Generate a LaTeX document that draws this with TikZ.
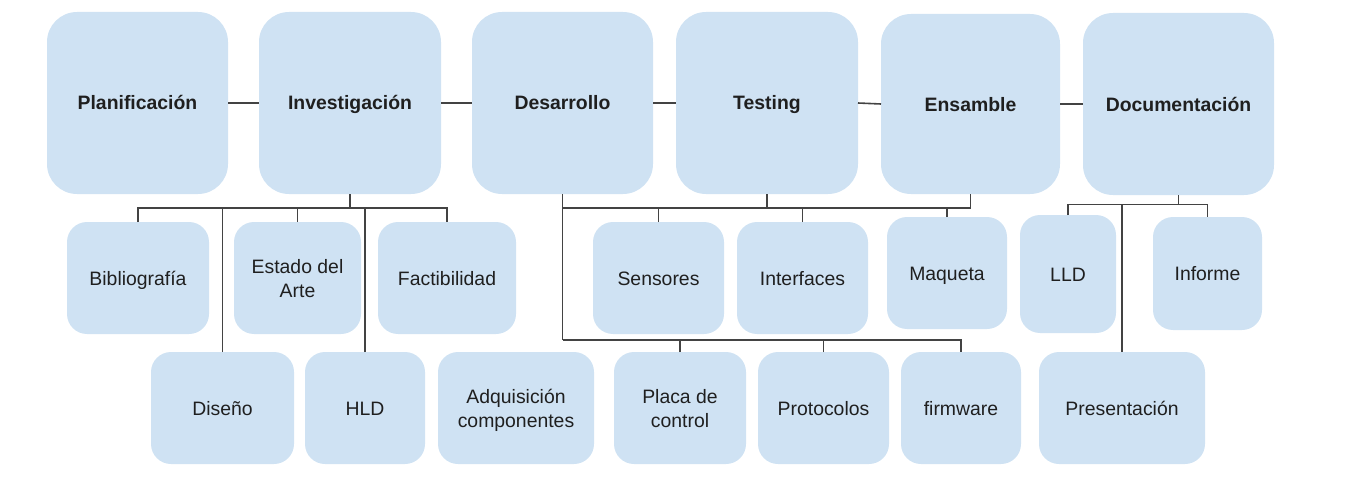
\documentclass[tikz,border=0pt]{standalone}
\usepackage{fontspec}
\setmainfont{Liberation Sans}
\definecolor{boxblue}{HTML}{CFE2F3}
\definecolor{linegray}{HTML}{434343}
\definecolor{txt}{HTML}{1F1F1F}
\begin{document}
\begin{tikzpicture}[x=1pt,y=1pt,
  base/.style={fill=boxblue, draw=none, inner sep=0pt, outer sep=0pt, text=txt,
    align=center, text height=18pt, text depth=4pt, font=\fontsize{19.4}{24}\selectfont},
  topbox/.style={base, rounded corners=30pt, font=\fontsize{19.4}{24}\selectfont\bfseries},
  subbox/.style={base, rounded corners=20pt},
  twoline/.style={text height=42pt},
  conn/.style={draw=linegray, line width=1.6pt}]
\useasboundingbox (0,0) rectangle (1345,-495);
% top row
\node[topbox, minimum width=181pt, minimum height=182pt] (pla) at (137.5,-103) {Planificación};
\node[topbox, minimum width=182pt, minimum height=182pt] (inv) at (350,-103) {Investigación};
\node[topbox, minimum width=181pt, minimum height=182pt] (des) at (562.5,-103) {Desarrollo};
\node[topbox, minimum width=182pt, minimum height=182pt] (tes) at (767,-103) {Testing};
\node[topbox, minimum width=179pt, minimum height=180pt] (ens) at (970.5,-104) {Ensamble};
\node[topbox, minimum width=191pt, minimum height=182pt] (doc) at (1178.5,-104) {Documentación};
% second row
\node[subbox, minimum width=142pt, minimum height=112pt] (bib) at (138,-278) {Bibliografía};
\node[subbox, twoline, minimum width=127pt, minimum height=112pt] (est) at (297.5,-278) {Estado del\\Arte};
\node[subbox, minimum width=138pt, minimum height=112pt] (fac) at (447,-278) {Factibilidad};
\node[subbox, minimum width=131pt, minimum height=112pt] (sen) at (658.5,-278) {Sensores};
\node[subbox, minimum width=131pt, minimum height=112pt] (intf) at (802.5,-278) {Interfaces};
\node[subbox, minimum width=120pt, minimum height=112pt] (maq) at (947,-273) {Maqueta};
\node[subbox, minimum width=96pt, minimum height=118pt] (lld) at (1068,-274) {LLD};
\node[subbox, minimum width=109pt, minimum height=113pt] (inf) at (1207.5,-273.5) {Informe};
% third row
\node[subbox, minimum width=143pt, minimum height=112pt] (dis) at (222.5,-408) {Diseño};
\node[subbox, minimum width=120pt, minimum height=112pt] (hld) at (365,-408) {HLD};
\node[subbox, twoline, minimum width=156pt, minimum height=112pt] (adq) at (516,-408) {Adquisición\\componentes};
\node[subbox, twoline, minimum width=132pt, minimum height=112pt] (plc) at (680,-408) {Placa de\\control};
\node[subbox, minimum width=131pt, minimum height=112pt] (pro) at (823.5,-408) {Protocolos};
\node[subbox, minimum width=120pt, minimum height=112pt] (fir) at (961,-408) {firmware};
\node[subbox, minimum width=166pt, minimum height=112pt] (pre) at (1122,-408) {Presentación};
% top connectors
\draw[conn] (pla.east) -- (inv.west);
\draw[conn] (inv.east) -- (des.west);
\draw[conn] (des.east) -- (tes.west);
\draw[conn] (tes.east) -- (ens.west);
\draw[conn] (ens.east) -- (doc.west);
% Investigacion tree
\coordinate (ij) at (350,-208);
\draw[conn] (inv.south) -- (ij);
\draw[conn] (bib.north) |- (ij) -| (fac.north);
\draw[conn] (est.north) -- (est.north |- ij);
\draw[conn] (dis.north) -- (dis.north |- ij);
\draw[conn] (hld.north) -- (hld.north |- ij);
% Desarrollo / Testing / Ensamble tree
\coordinate (dj) at (562.5,-208);
\coordinate (dk) at (562.5,-340);
\draw[conn] (des.south) -- (dk);
\draw[conn] (dj) -| (ens.south);
\draw[conn] (tes.south) -- (tes.south |- dj);
\draw[conn] (sen.north) -- (sen.north |- dj);
\draw[conn] (intf.north) -- (intf.north |- dj);
\draw[conn] (maq.north) -- (maq.north |- dj);
\draw[conn] (dk) -| (fir.north);
\draw[conn] (plc.north) -- (plc.north |- dk);
\draw[conn] (pro.north) -- (pro.north |- dk);
% Documentacion tree
\coordinate (cj) at (1178.5,-204.5);
\draw[conn] (doc.south) -- (cj);
\draw[conn] (lld.north) |- (cj) -| (inf.north);
\draw[conn] (pre.north) -- (pre.north |- cj);
\end{tikzpicture}
\end{document}
